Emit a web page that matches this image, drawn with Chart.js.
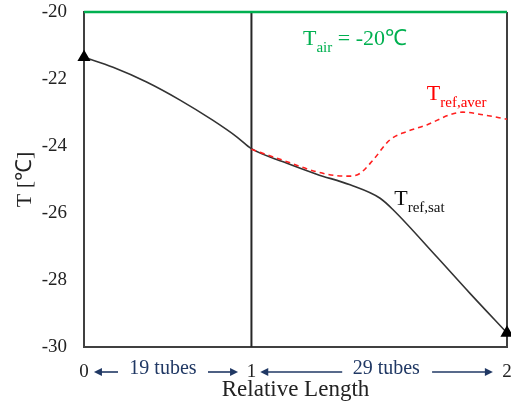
<!DOCTYPE html>
<html>
<head>
<meta charset="utf-8">
<script src="https://cdn.jsdelivr.net/npm/chart.js@4"></script>
<style>
  html, body { margin: 0; padding: 0; background: #fff; }
  #wrap { width: 511px; height: 406px; }
</style>
</head>
<body>
<div id="wrap"><canvas id="myChart" width="511" height="406"></canvas></div>
<script>
// x axis is counted in tubes: 0..19 is the first part, 19..48 the second
const tickPos = [0, 19, 48];
const tickLabels = ['0', '1', '2'];

const satX = [0, 3.3, 7.1, 10.9, 14.6, 17.4, 19, 22.6, 26.4, 30.2, 33.6, 35.1, 40, 43.8, 48];
const satT = [-21.35, -21.65, -22.09, -22.63, -23.23, -23.74, -24.08, -24.47, -24.84, -25.16, -25.56, -25.91, -27.3, -28.4, -29.58];

const averX = [19, 22.5, 26.4, 28.5, 30.2, 31.3, 32.8, 34.7, 36.6, 38.9, 41.5, 43, 45.3, 48];
const averT = [-24.1, -24.42, -24.77, -24.88, -24.9, -24.82, -24.42, -23.82, -23.57, -23.37, -23.07, -22.99, -23.07, -23.2];

const airX = [0, 48];
const airT = [-20, -20];

const serif = '"Liberation Serif", "Times New Roman", serif';
const navy = '#203864';

function pts(xs, ys) { return xs.map((x, i) => ({ x: x, y: ys[i] })); }

function subText(ctx, x, y, main, sub, rest, size, color) {
  ctx.fillStyle = color;
  ctx.textAlign = 'left';
  ctx.textBaseline = 'alphabetic';
  ctx.font = size + 'px ' + serif;
  ctx.fillText(main, x, y);
  x += ctx.measureText(main).width;
  ctx.font = Math.round(size * 0.68) + 'px ' + serif;
  ctx.fillText(sub, x, y + size * 0.3);
  x += ctx.measureText(sub).width;
  if (rest) {
    ctx.font = size + 'px ' + serif;
    ctx.fillText(rest, x, y);
  }
}

function arrow(ctx, x1, x2, y) {
  const dir = x2 > x1 ? 1 : -1;
  ctx.strokeStyle = navy;
  ctx.fillStyle = navy;
  ctx.lineWidth = 1.6;
  ctx.beginPath();
  ctx.moveTo(x1, y);
  ctx.lineTo(x2 - dir * 6, y);
  ctx.stroke();
  ctx.beginPath();
  ctx.moveTo(x2, y);
  ctx.lineTo(x2 - dir * 8, y - 4);
  ctx.lineTo(x2 - dir * 8, y + 4);
  ctx.closePath();
  ctx.fill();
}

// keep the tick labels from pushing the plot area inward
function noPad(s) {
  s.paddingTop = 0; s.paddingBottom = 0; s.paddingLeft = 0; s.paddingRight = 0;
}

const extras = {
  id: 'extras',
  beforeDatasetsDraw(chart) {
    const { ctx, chartArea: a, scales } = chart;
    ctx.save();
    // right frame line
    ctx.strokeStyle = '#404040';
    ctx.lineWidth = 2;
    ctx.beginPath();
    ctx.moveTo(a.right, a.top);
    ctx.lineTo(a.right, a.bottom + 1);
    ctx.stroke();
    // divider at relative length 1
    const xd = scales.x.getPixelForValue(19);
    ctx.strokeStyle = '#262626';
    ctx.beginPath();
    ctx.moveTo(xd, a.top);
    ctx.lineTo(xd, a.bottom);
    ctx.stroke();
    ctx.restore();
  },
  afterDraw(chart) {
    const { ctx, chartArea: a, scales } = chart;
    const x = scales.x, y = scales.y;
    ctx.save();
    subText(ctx, x.getPixelForValue(24.85), y.getPixelForValue(-20.99), 'T', 'air', ' = -20\u2103', 22, '#00b050');
    subText(ctx, x.getPixelForValue(38.9), y.getPixelForValue(-22.63), 'T', 'ref,aver', '', 22, '#ff0000');
    subText(ctx, x.getPixelForValue(35.2), y.getPixelForValue(-25.76), 'T', 'ref,sat', '', 22, '#111');

    // tube counts under the axis
    const ty = a.bottom + 25;
    ctx.font = '20px ' + serif;
    ctx.fillStyle = navy;
    ctx.textAlign = 'center';
    ctx.textBaseline = 'middle';
    ctx.fillText('19 tubes', x.getPixelForValue(8.96), ty - 3);
    ctx.fillText('29 tubes', x.getPixelForValue(34.3), ty - 3);
    arrow(ctx, x.getPixelForValue(3.86), x.getPixelForValue(1.13), ty);
    arrow(ctx, x.getPixelForValue(14.07), x.getPixelForValue(17.48), ty);
    arrow(ctx, x.getPixelForValue(29.3), x.getPixelForValue(20.0), ty);
    arrow(ctx, x.getPixelForValue(39.5), x.getPixelForValue(46.4), ty);
    ctx.restore();
  }
};

const ctx = document.getElementById('myChart').getContext('2d');
new Chart(ctx, {
  type: 'line',
  data: {
    datasets: [
      {
        label: 'T ref,sat',
        data: pts(satX, satT),
        borderColor: '#333333',
        borderWidth: 1.6,
        cubicInterpolationMode: 'monotone',
        pointStyle: 'triangle',
        pointRadius: satX.map((v, i) => (i === 0 || i === satX.length - 1) ? 6 : 0),
        pointBackgroundColor: '#000',
        pointBorderColor: '#000',
        clip: false,
        order: 2
      },
      {
        label: 'T ref,aver',
        data: pts(averX, averT),
        borderColor: '#ff2020',
        borderWidth: 1.6,
        borderDash: [5, 4],
        cubicInterpolationMode: 'monotone',
        pointRadius: 0,
        order: 1
      },
      {
        label: 'T air',
        data: pts(airX, airT),
        borderColor: '#00b050',
        borderWidth: 2.5,
        pointRadius: 0,
        clip: false,
        order: 0
      }
    ]
  },
  options: {
    responsive: false,
    animation: false,
    layout: { autoPadding: false, padding: { top: 12, right: 4, left: 0, bottom: 0 } },
    plugins: { legend: { display: false }, tooltip: { enabled: false } },
    scales: {
      x: {
        type: 'linear',
        min: 0,
        max: 48,
        afterBuildTicks: (s) => { s.ticks = tickPos.map(v => ({ value: v })); },
        afterFit: (s) => { s.height = 59; noPad(s); },
        ticks: {
          autoSkip: false,
          maxRotation: 0,
          padding: 14,
          color: '#222',
          font: { family: serif, size: 19 },
          callback: (v) => tickLabels[tickPos.indexOf(v)]
        },
        grid: { display: false, drawTicks: false },
        border: { display: true, color: '#404040', width: 2 },
        title: {
          display: true,
          text: 'Relative Length',
          color: '#222',
          font: { family: serif, size: 23 },
          padding: { top: 0, bottom: 2 }
        }
      },
      y: {
        min: -30,
        max: -20,
        afterFit: (s) => { s.width = 84; noPad(s); },
        ticks: {
          stepSize: 2,
          padding: 17,
          color: '#222',
          font: { family: serif, size: 19 }
        },
        grid: { display: false, drawTicks: false },
        border: { display: true, color: '#404040', width: 2 },
        title: {
          display: true,
          text: 'T [\u2103]',
          color: '#222',
          font: { family: serif, size: 22 },
          padding: { top: 12, bottom: 0 }
        }
      }
    }
  },
  plugins: [extras]
});
</script>
</body>
</html>
